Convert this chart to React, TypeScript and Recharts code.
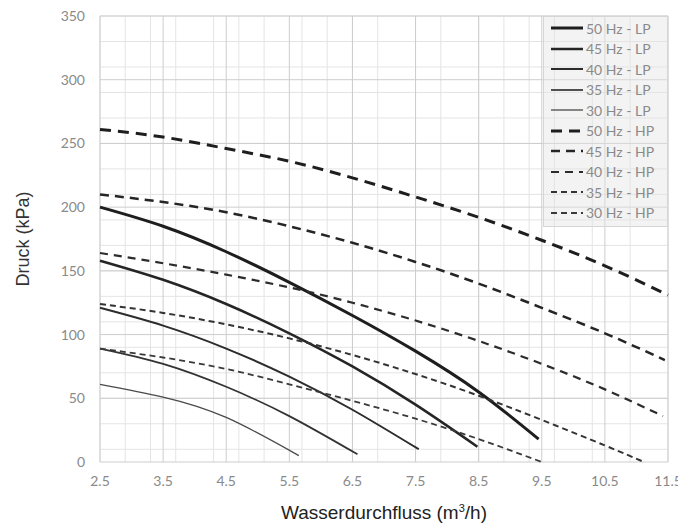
import { LineChart, Line, XAxis, YAxis, CartesianGrid, Legend, Label } from 'recharts';

// Wasserdurchfluss (m3/h) vs Druck (kPa), one array per curve
const lp50 = [
    { q: 2.5, p: 200 }, { q: 3.5, p: 185 }, { q: 4.5, p: 165 }, { q: 5.5, p: 141 },
    { q: 6.5, p: 115 }, { q: 7.5, p: 87 }, { q: 8.5, p: 55 }, { q: 9.45, p: 18 },
];
const lp45 = [
    { q: 2.5, p: 158 }, { q: 3.5, p: 143 }, { q: 4.5, p: 124 }, { q: 5.5, p: 101 },
    { q: 6.5, p: 75 }, { q: 7.5, p: 45 }, { q: 8.48, p: 12 },
];
const lp40 = [
    { q: 2.5, p: 121 }, { q: 3.5, p: 107 }, { q: 4.5, p: 89 }, { q: 5.5, p: 67 },
    { q: 6.5, p: 41 }, { q: 7.55, p: 10 },
];
const lp35 = [
    { q: 2.5, p: 89 }, { q: 3.5, p: 77 }, { q: 4.5, p: 59 }, { q: 5.5, p: 36 }, { q: 6.58, p: 6 },
];
const lp30 = [
    { q: 2.5, p: 61 }, { q: 3.5, p: 51 }, { q: 4.5, p: 35 }, { q: 5.65, p: 5 },
];
const hp50 = [
    { q: 2.5, p: 261 }, { q: 3.5, p: 255 }, { q: 4.5, p: 246 }, { q: 5.5, p: 236 },
    { q: 6.5, p: 223 }, { q: 7.5, p: 208 }, { q: 8.5, p: 192 }, { q: 9.5, p: 174 },
    { q: 10.5, p: 154 }, { q: 11.5, p: 131 },
];
const hp45 = [
    { q: 2.5, p: 210 }, { q: 3.5, p: 204 }, { q: 4.5, p: 196 }, { q: 5.5, p: 185 },
    { q: 6.5, p: 172 }, { q: 7.5, p: 157 }, { q: 8.5, p: 140 }, { q: 9.5, p: 121 },
    { q: 10.5, p: 101 }, { q: 11.45, p: 80 },
];
const hp40 = [
    { q: 2.5, p: 164 }, { q: 3.5, p: 156 }, { q: 4.5, p: 147 }, { q: 5.5, p: 137 },
    { q: 6.5, p: 125 }, { q: 7.5, p: 111 }, { q: 8.5, p: 95 }, { q: 9.5, p: 77 },
    { q: 10.5, p: 57 }, { q: 11.42, p: 36 },
];
const hp35 = [
    { q: 2.5, p: 124 }, { q: 3.5, p: 117 }, { q: 4.5, p: 108 }, { q: 5.5, p: 97 },
    { q: 6.5, p: 84 }, { q: 7.5, p: 69 }, { q: 8.5, p: 52 }, { q: 9.5, p: 33 },
    { q: 10.5, p: 13 }, { q: 11.12, p: 0 },
];
const hp30 = [
    { q: 2.5, p: 89 }, { q: 3.5, p: 82 }, { q: 4.5, p: 73 }, { q: 5.5, p: 61 },
    { q: 6.5, p: 48 }, { q: 7.5, p: 34 }, { q: 8.5, p: 18 }, { q: 9.5, p: 0 },
];

const xTicks = [2.5, 3.5, 4.5, 5.5, 6.5, 7.5, 8.5, 9.5, 10.5, 11.5];
const yTicks = [0, 50, 100, 150, 200, 250, 300, 350];

const minorX = Array.from({ length: 46 }, (_, i) => 2.5 + i * 0.2);
const minorY = Array.from({ length: 36 }, (_, i) => i * 10);

const series = [
    { name: '50 Hz - LP', data: lp50, width: 3, dash: undefined, color: '#1e1e1e' },
    { name: '45 Hz - LP', data: lp45, width: 2.5, dash: undefined, color: '#252525' },
    { name: '40 Hz - LP', data: lp40, width: 2, dash: undefined, color: '#2c2c2c' },
    { name: '35 Hz - LP', data: lp35, width: 1.7, dash: undefined, color: '#333' },
    { name: '30 Hz - LP', data: lp30, width: 1.3, dash: undefined, color: '#4a4a4a' },
    { name: '50 Hz - HP', data: hp50, width: 3, dash: '11 7', color: '#1e1e1e' },
    { name: '45 Hz - HP', data: hp45, width: 2.5, dash: '9 6', color: '#252525' },
    { name: '40 Hz - HP', data: hp40, width: 2.2, dash: '8 6', color: '#2c2c2c' },
    { name: '35 Hz - HP', data: hp35, width: 2, dash: '6 4', color: '#333' },
    { name: '30 Hz - HP', data: hp30, width: 1.8, dash: '6 4', color: '#3a3a3a' },
];

const tickStyle = { fill: '#8a8a8a', fontSize: 14, fontFamily: 'Lato' };

function LegendBox() {
    return (
        <div
            style={{
                background: 'rgba(228,228,228,0.45)',
                border: '1px solid #d6d6d6',
                padding: '1px 0 3px 7px',
                width: 125,
                boxSizing: 'border-box',
            }}
        >
            {series.map((s) => (
                <div key={s.name} style={{ display: 'flex', alignItems: 'center', height: 20.5 }}>
                    <svg width={33} height={10}>
                        <line x1={0} y1={5} x2={32} y2={5} stroke={s.color} strokeWidth={s.width} strokeDasharray={s.dash} />
                    </svg>
                    <span style={{ fontFamily: 'Lato', fontSize: 14, color: '#8a8a8a', marginLeft: 2, whiteSpace: 'nowrap' }}>
                        {s.name}
                    </span>
                </div>
            ))}
        </div>
    );
}

function XTitle({ viewBox }: any) {
    const cx = viewBox.x + viewBox.width / 2;
    const y = viewBox.y + viewBox.height - 4;
    return (
        <text x={cx} y={y} textAnchor="middle" fontFamily="Liberation Sans" fontSize={19} fill="#222">
            <tspan>Wasserdurchfluss (m</tspan>
            <tspan fontSize={11} dy={-7}>3</tspan>
            <tspan dy={7}>/h)</tspan>
        </text>
    );
}

export default function App() {
    return (
        <div style={{ background: '#fff' }}>
            <LineChart width={678} height={515} margin={{ top: 8, right: 18, left: 0, bottom: 0 }}>
                <CartesianGrid stroke="#e4e4e4" verticalValues={minorX} horizontalValues={minorY} />
                <CartesianGrid stroke="#cdcdcd" verticalValues={xTicks} horizontalValues={yTicks} />
                <XAxis
                    type="number"
                    dataKey="q"
                    domain={[2.5, 11.5]}
                    ticks={xTicks}
                    axisLine={false}
                    tickLine={false}
                    tickSize={0}
                    tickMargin={14}
                    height={61}
                    tick={tickStyle}
                    allowDuplicatedCategory={false}
                >
                    <Label content={XTitle} />
                </XAxis>
                <YAxis
                    type="number"
                    domain={[0, 350]}
                    ticks={yTicks}
                    axisLine={false}
                    tickLine={false}
                    tickSize={0}
                    tickMargin={15}
                    width={92}
                    tick={tickStyle}
                >
                    <Label
                        value="Druck (kPa)"
                        angle={-90}
                        position="insideLeft"
                        offset={15}
                        style={{ textAnchor: 'middle', fontFamily: 'Liberation Sans', fontSize: 18, fontWeight: 400, fill: '#333' }}
                    />
                </YAxis>
                {series.map((s) => (
                    <Line
                        key={s.name}
                        name={s.name}
                        data={s.data}
                        dataKey="p"
                        type="natural"
                        stroke={s.color}
                        strokeWidth={s.width}
                        strokeDasharray={s.dash}
                        dot={false}
                        activeDot={false}
                        isAnimationActive={false}
                    />
                ))}
                <Legend
                    layout="vertical"
                    align="center"
                    verticalAlign="middle"
                    content={<LegendBox />}
                    wrapperStyle={{ position: 'absolute', left: 535, top: 8, width: 125 }}
                />
            </LineChart>
        </div>
    );
}
